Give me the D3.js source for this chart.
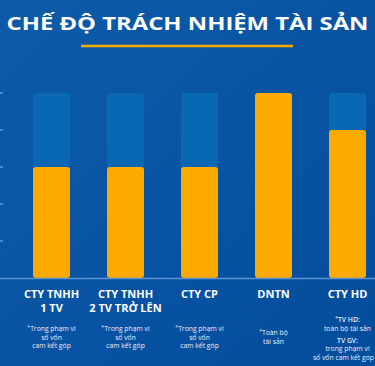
<!DOCTYPE html>
<html>
<head>
<meta charset="utf-8">
<script src="https://cdn.jsdelivr.net/npm/d3@7"></script>
<style>
  html, body { margin: 0; padding: 0; background: #0753a3; }
  svg { display: block; font-family: "Open Sans", "DejaVu Sans", sans-serif; }
</style>
</head>
<body>
<svg id="chart" width="375" height="366"></svg>
<script>
const title = "CHẾ ĐỘ TRÁCH NHIỆM TÀI SẢN";
const categories = ["CTY TNHH 1 TV", "CTY TNHH 2 TV TRỞ LÊN", "CTY CP", "DNTN", "CTY HD"];
const labelLines = [["CTY TNHH", "1 TV"], ["CTY TNHH", "2 TV TRỞ LÊN"], ["CTY CP"], ["DNTN"], ["CTY HD"]];
const capacity = [5, 5, 5, 5, 5];
const liability = [3, 3, 3, 5, 4];
const yTicks = [0, 1, 2, 3, 4, 5];
const notes = [
  ["Trong phạm vi", "số vốn", "cam kết góp"],
  ["Trong phạm vi", "số vốn", "cam kết góp"],
  ["Trong phạm vi", "số vốn", "cam kết góp"],
  ["Toàn bộ", "tài sản"],
  ["TV HD:", "toàn bộ tài sản", "TV GV:", "trong phạm vi", "số vốn cam kết góp"]
];

const svg = d3.select("#chart");
const W = 375, H = 366;

// background gradient
const defs = svg.append("defs");
const grad = defs.append("linearGradient").attr("id", "bg")
  .attr("x1", "0").attr("y1", "0").attr("x2", "1").attr("y2", "1");
grad.append("stop").attr("offset", "0").attr("stop-color", "#0d5ca8");
grad.append("stop").attr("offset", "0.6").attr("stop-color", "#0752a2");
grad.append("stop").attr("offset", "1").attr("stop-color", "#044c9c");
svg.append("rect").attr("width", W).attr("height", H).attr("fill", "url(#bg)");

// title
svg.append("text")
  .attr("x", W / 2).attr("y", 30)
  .attr("text-anchor", "middle")
  .attr("fill", "#ffffff")
  .attr("font-size", 18).attr("font-weight", 700)
  .attr("textLength", 362).attr("lengthAdjust", "spacingAndGlyphs")
  .text(title);
svg.append("line")
  .attr("x1", 81).attr("x2", 293).attr("y1", 46).attr("y2", 46)
  .attr("stroke", "#f2aa00").attr("stroke-width", 2.5);

const x = d3.scaleBand().domain(categories).range([14.5, 384.5])
  .paddingInner(0.5).paddingOuter(0.25);
const y = d3.scaleLinear().domain([0, 5]).range([278, 93]);

// left ticks
svg.append("g").selectAll("line").data(yTicks.slice(1)).enter().append("line")
  .attr("x1", 0).attr("x2", 3)
  .attr("y1", d => y(d)).attr("y2", d => y(d))
  .attr("stroke", "#8fb6e0").attr("stroke-width", 1);

// capacity bars
svg.append("g").selectAll("rect").data(capacity).enter().append("rect")
  .attr("x", (d, i) => x(categories[i]))
  .attr("width", x.bandwidth())
  .attr("y", d => y(d))
  .attr("height", d => y(0) - y(d))
  .attr("rx", 3)
  .attr("fill", "#0868b3");

// liability bars
svg.append("g").selectAll("rect").data(liability).enter().append("rect")
  .attr("x", (d, i) => x(categories[i]))
  .attr("width", x.bandwidth())
  .attr("y", d => y(d))
  .attr("height", d => y(0) - y(d))
  .attr("rx", 3)
  .attr("fill", "#fdaa00");

// baseline
svg.append("line")
  .attr("x1", 0).attr("x2", W)
  .attr("y1", y(0) + 0.5).attr("y2", y(0) + 0.5)
  .attr("stroke", "#5b93d2").attr("stroke-width", 1.5);

// category labels
const lab = svg.append("g").selectAll("text").data(labelLines).enter().append("text")
  .attr("text-anchor", "middle")
  .attr("fill", "#ffffff")
  .attr("font-size", 11).attr("font-weight", 700);
lab.each(function (lines, i) {
  const cx = x(categories[i]) + x.bandwidth() / 2;
  d3.select(this).selectAll("tspan").data(lines).enter().append("tspan")
    .attr("x", cx)
    .attr("y", (d, j) => 298 + j * 14)
    .text(d => d);
});

// notes
const noteStart = [331, 331, 331, 335, 322];
const noteStep = [8.5, 8.5, 8.5, 8.5, 8.6];
notes.forEach((lines, i) => {
  const cx = x(categories[i]) + x.bandwidth() / 2;
  const g = svg.append("g");
  lines.forEach((line, j) => {
    let yy = noteStart[i] + j * noteStep[i];
    if (i === 4 && j >= 2) yy += 3.5;
    const t = g.append("text")
      .attr("x", cx).attr("y", yy)
      .attr("text-anchor", "middle")
      .attr("fill", "#e6eef8")
      .attr("font-size", 6.8)
      .attr("font-weight", (i === 4 && (j === 0 || j === 2)) ? 600 : 400);
    if (j === 0) {
      t.append("tspan").attr("font-size", 5).attr("dy", -2).text("*");
      t.append("tspan").attr("dy", 2).text(line);
    } else {
      t.text(line);
    }
    // keep inside the right edge
    const w = t.node().getComputedTextLength();
    if (cx + w / 2 > W - 1) t.attr("x", W - 1 - w / 2);
  });
});
</script>
</body>
</html>
